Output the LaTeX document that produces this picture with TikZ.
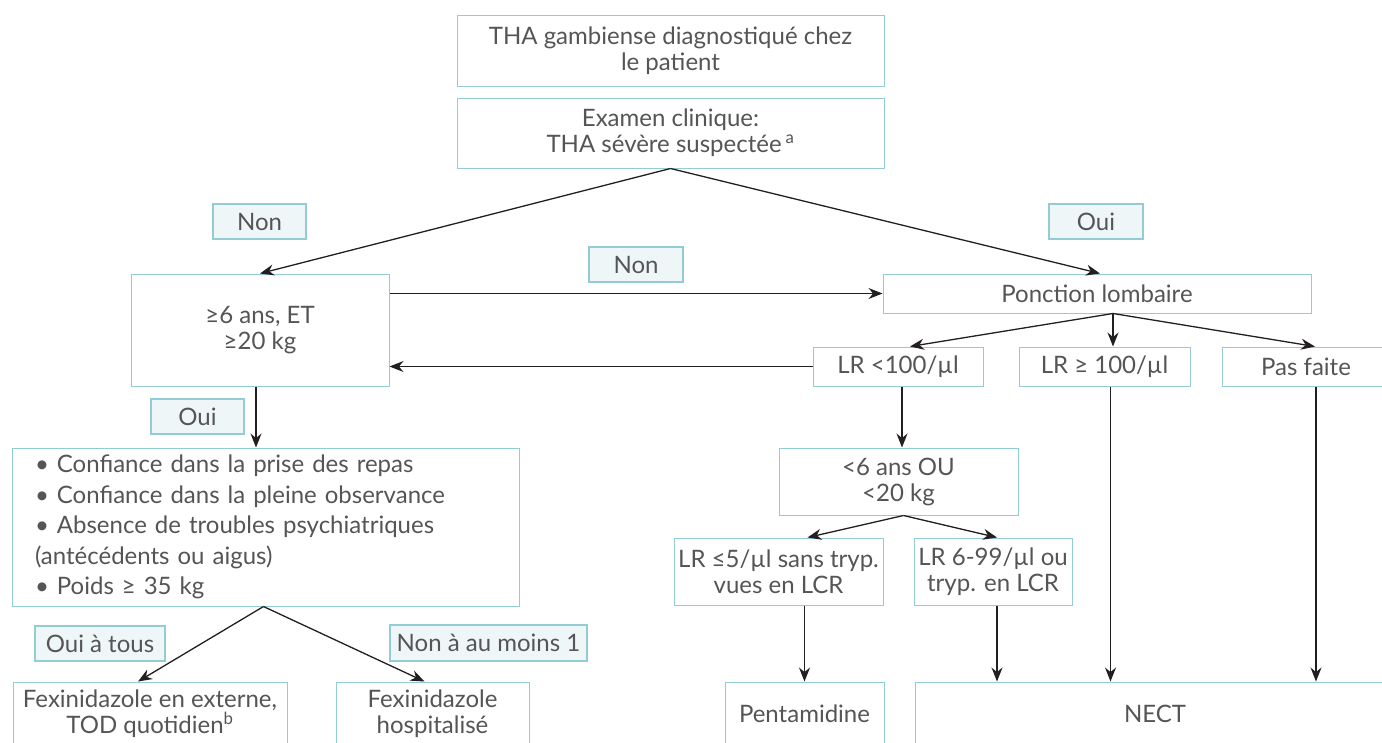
\documentclass[tikz,border=0pt]{standalone}
\usepackage{fontspec}
\setmainfont{Lato}
\usetikzlibrary{arrows.meta,calc}
\definecolor{txtc}{HTML}{555555}
\definecolor{bordc}{HTML}{93CDD3}
\definecolor{labfill}{HTML}{EEF6F8}
\definecolor{arrc}{HTML}{231F20}
\begin{document}
\begin{tikzpicture}[x=1pt,y=-1pt,
  box/.style={draw=bordc, line width=1pt, fill=white, text=txtc, align=center, inner sep=0pt, font=\fontsize{24}{26}\selectfont},
  lab/.style={box, fill=labfill, line width=1.2pt},
  arr/.style={draw=arrc, line width=1.3pt, -{Stealth[length=14pt,width=11pt]}}]
\useasboundingbox (0,0) rectangle (1382,742);
\clip (0,0) rectangle (1382,742);

% boxes
\node[box, minimum width=427pt, minimum height=71pt] (b1) at (670.5,50.5) {THA gambiense diagnostiqué chez\\le patient};
\node[box, minimum width=427pt, minimum height=70pt] (b2) at (670.5,133) {Examen clinique:\\THA sévère suspectée\,\textsuperscript{a}};
\node[lab, minimum width=93pt, minimum height=35pt] (lnon1) at (259.5,221.5) {Non};
\node[lab, minimum width=94pt, minimum height=35pt] (loui1) at (1096,221.5) {Oui};
\node[box, minimum width=258pt, minimum height=112pt] (bage) at (260,330) {≥6 ans, ET\\≥20 kg};
\node[lab, minimum width=94pt, minimum height=35pt] (lnon2) at (636,264.5) {Non};
\node[box, minimum width=428pt, minimum height=39pt] (bpl) at (1097,293.5) {Ponction lombaire};
\node[box, minimum width=170pt, minimum height=39pt] (blr1) at (898,366.5) {LR <100/µl};
\node[box, minimum width=171pt, minimum height=39pt] (blr2) at (1104.5,366.5) {LR ≥ 100/µl};
\node[box, minimum width=168pt, minimum height=39pt] (bpas) at (1306,366.5) {Pas faite};
\node[lab, minimum width=93pt, minimum height=35pt] (loui2) at (197.5,416.5) {Oui};
\node[box, minimum width=507pt, minimum height=158pt, text width=461pt, align=left,
      font=\fontsize{24}{30.5}\selectfont] (bcrit) at (265.5,527)
  {• Confiance dans la prise des repas\\
   • Confiance dans la pleine observance\\
   • Absence de troubles psychiatriques\\
   (antécédents ou aigus)\\
   • Poids ≥ 35 kg};
\node[box, minimum width=239pt, minimum height=67pt] (bsix) at (898.5,481.5) {<6 ans OU\\<20 kg};
\node[box, minimum width=209pt, minimum height=67pt] (bl5) at (778.5,571.5) {LR ≤5/µl sans tryp.\\vues en LCR};
\node[box, minimum width=158pt, minimum height=67pt] (bl99) at (993,571.5) {LR 6-99/µl ou\\tryp. en LCR};
\node[lab, minimum width=130pt, minimum height=35pt] (louitous) at (100,643.5) {Oui à tous};
\node[lab, minimum width=197pt, minimum height=36pt] (lnonm) at (488.5,643) {Non à au moins 1};
\node[box, minimum width=274pt, minimum height=63pt] (bfex1) at (150,713.5) {Fexinidazole en externe,\\TOD quotidien\textsuperscript{b}};
\node[box, minimum width=193pt, minimum height=63pt] (bfex2) at (432.5,713.5) {Fexinidazole\\hospitalisé};
\node[box, minimum width=159pt, minimum height=63pt] (bpent) at (804.5,713.5) {Pentamidine};
\node[box, minimum width=480pt, minimum height=63pt] (bnect) at (1155,713.5) {NECT};

% connectors
\draw[arr] (b2.south) -- (bage.north);
\draw[arr] (b2.south) -- ($(bpl.north)+(3,0)$);
\draw[arr] (bage.east |- bpl.west) -- (bpl.west);
\draw[arr] (blr1.west) -- (bage.east |- blr1.west);
\coordinate (pa) at ($(bpl.south)+(16,0)$);
\draw[arr] (pa) -- ($(blr1.north)+(12,0)$);
\draw[arr] (pa) -- (pa |- blr2.north);
\draw[arr] (pa) -- ($(bpas.north)+(9,0)$);
\draw[arr] ($(blr1.south)+(4,0)$) -- ($(blr1.south |- bsix.north)+(4,0)$);
\coordinate (pb) at ($(bsix.south)+(5,0)$);
\draw[arr] (pb) -- ($(bl5.north)+(29,0)$);
\draw[arr] (pb) -- ($(bl99.north)+(4,0)$);
\draw[arr] (bpent.north |- bl5.south) -- (bpent.north);
\coordinate (c99) at ($(bl99.south)+(4,0)$);
\draw[arr] (c99) -- (c99 |- bnect.north);
\coordinate (clr2) at ($(blr2.south)+(6,0)$);
\draw[arr] (clr2) -- (clr2 |- bnect.north);
\coordinate (cpas) at ($(bpas.south)+(10,0)$);
\draw[arr] (cpas) -- (cpas |- bnect.north);
\coordinate (cage) at ($(bage.south)+(-4,0)$);
\draw[arr] (cage) -- (cage |- bcrit.north);
\coordinate (pc) at ($(bcrit.south)+(-2,0)$);
\draw[arr] (pc) -- ($(bfex1.north)+(-12,0)$);
\draw[arr] (pc) -- ($(bfex2.north)+(-8,0)$);
\end{tikzpicture}
\end{document}
